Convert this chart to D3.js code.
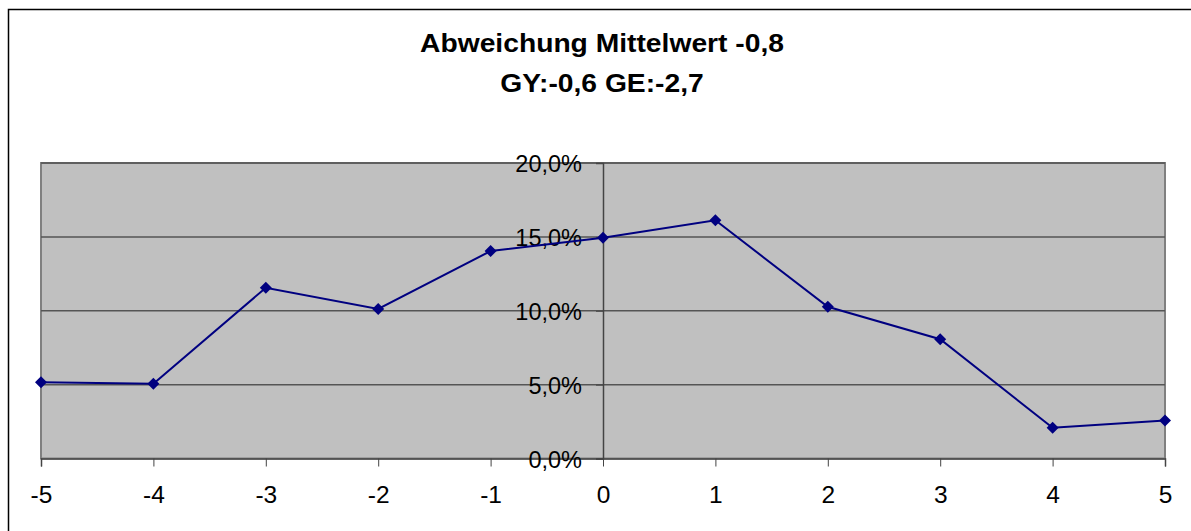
<!DOCTYPE html>
<html lang="de">
<head>
  <meta charset="UTF-8" />
  <title>Abweichung Mittelwert</title>
  <script src="https://d3js.org/d3.v7.min.js"></script>
  <style>
    body {
      background: white;
      margin: 0;
      padding: 0;
      overflow: hidden;
      font-family: "Liberation Sans", Arial, sans-serif;
    }
  </style>
</head>
<body>
  <div id="viz"></div>
  <script>
    const titleLines = ["Abweichung Mittelwert -0,8", "GY:-0,6 GE:-2,7"];
    const categories = [-5, -4, -3, -2, -1, 0, 1, 2, 3, 4, 5];
    const values = [5.16, 5.06, 11.56, 10.12, 14.04, 14.94, 16.12, 10.27, 8.07, 2.08, 2.58];
    const yTicks = [0, 5, 10, 15, 20];

    const width = 1191, height = 531;
    const plot = { left: 41, right: 1165, top: 163, bottom: 458.5 };

    const svg = d3.select("#viz")
      .append("svg")
      .attr("width", width)
      .attr("height", height);

    // outer chart frame
    svg.append("rect")
      .attr("x", 8.5)
      .attr("y", 9.5)
      .attr("width", 1200)
      .attr("height", 600)
      .attr("fill", "white")
      .attr("stroke", "black")
      .attr("stroke-width", 1.5);

    const x = d3.scaleLinear().domain([-5, 5]).range([plot.left, plot.right]);
    const y = d3.scaleLinear().domain([0, 20]).range([plot.bottom, plot.top]);

    // plot area
    svg.append("rect")
      .attr("x", plot.left)
      .attr("y", plot.top)
      .attr("width", plot.right - plot.left)
      .attr("height", plot.bottom - plot.top)
      .attr("fill", "#c0c0c0")
      .attr("stroke", "#808080")
      .attr("stroke-width", 2);

    // gridlines
    svg.selectAll(".grid")
      .data(yTicks.filter(t => t > 0))
      .enter()
      .append("line")
      .attr("x1", plot.left)
      .attr("x2", plot.right)
      .attr("y1", d => y(d))
      .attr("y2", d => y(d))
      .attr("stroke", "#555")
      .attr("stroke-width", 1.5);

    // x axis at bottom
    const xAxis = svg.append("g")
      .attr("transform", `translate(0,${plot.bottom})`)
      .call(d3.axisBottom(x).tickValues(categories).tickSize(8).tickPadding(19).tickFormat(d => d));
    xAxis.select(".domain").attr("stroke", "#444").attr("stroke-width", 1.5);
    xAxis.selectAll(".tick line").attr("stroke", "#444");
    xAxis.selectAll("text")
      .attr("fill", "black")
      .style("font-size", "24.5px")
      .style("font-family", "'Liberation Sans', Arial, sans-serif");

    // y axis through 0
    const yAxis = svg.append("g")
      .attr("transform", `translate(${x(0)},0)`)
      .call(d3.axisLeft(y).tickValues(yTicks).tickSize(7).tickPadding(14)
        .tickFormat(d => d3.format(".1f")(d).replace(".", ",") + "%"));
    yAxis.select(".domain").attr("stroke", "#444").attr("stroke-width", 1.5);
    yAxis.selectAll(".tick line").attr("stroke", "#444");
    yAxis.selectAll("text")
      .attr("fill", "black")
      .attr("dy", "0.38em")
      .style("font-size", "23.5px")
      .style("font-family", "'Liberation Sans', Arial, sans-serif");

    // series line
    const pts = categories.map((c, i) => ({ c, v: values[i] }));
    svg.append("path")
      .datum(pts)
      .attr("fill", "none")
      .attr("stroke", "#000080")
      .attr("stroke-width", 2)
      .attr("d", d3.line().x(d => x(d.c)).y(d => y(d.v)));

    // diamond markers
    svg.selectAll(".marker")
      .data(pts)
      .enter()
      .append("path")
      .attr("transform", d => `translate(${x(d.c)},${y(d.v)})`)
      .attr("d", "M0,-6L6,0L0,6L-6,0Z")
      .attr("fill", "#000080");

    // title (slightly wide, like the original)
    svg.selectAll(".title")
      .data(titleLines)
      .enter()
      .append("text")
      .attr("transform", (_, i) => `translate(602,${52 + i * 40}) scale(1.13,1)`)
      .attr("text-anchor", "middle")
      .style("font-size", "25px")
      .style("font-weight", "bold")
      .attr("fill", "black")
      .text(d => d);
  </script>
</body>
</html>
